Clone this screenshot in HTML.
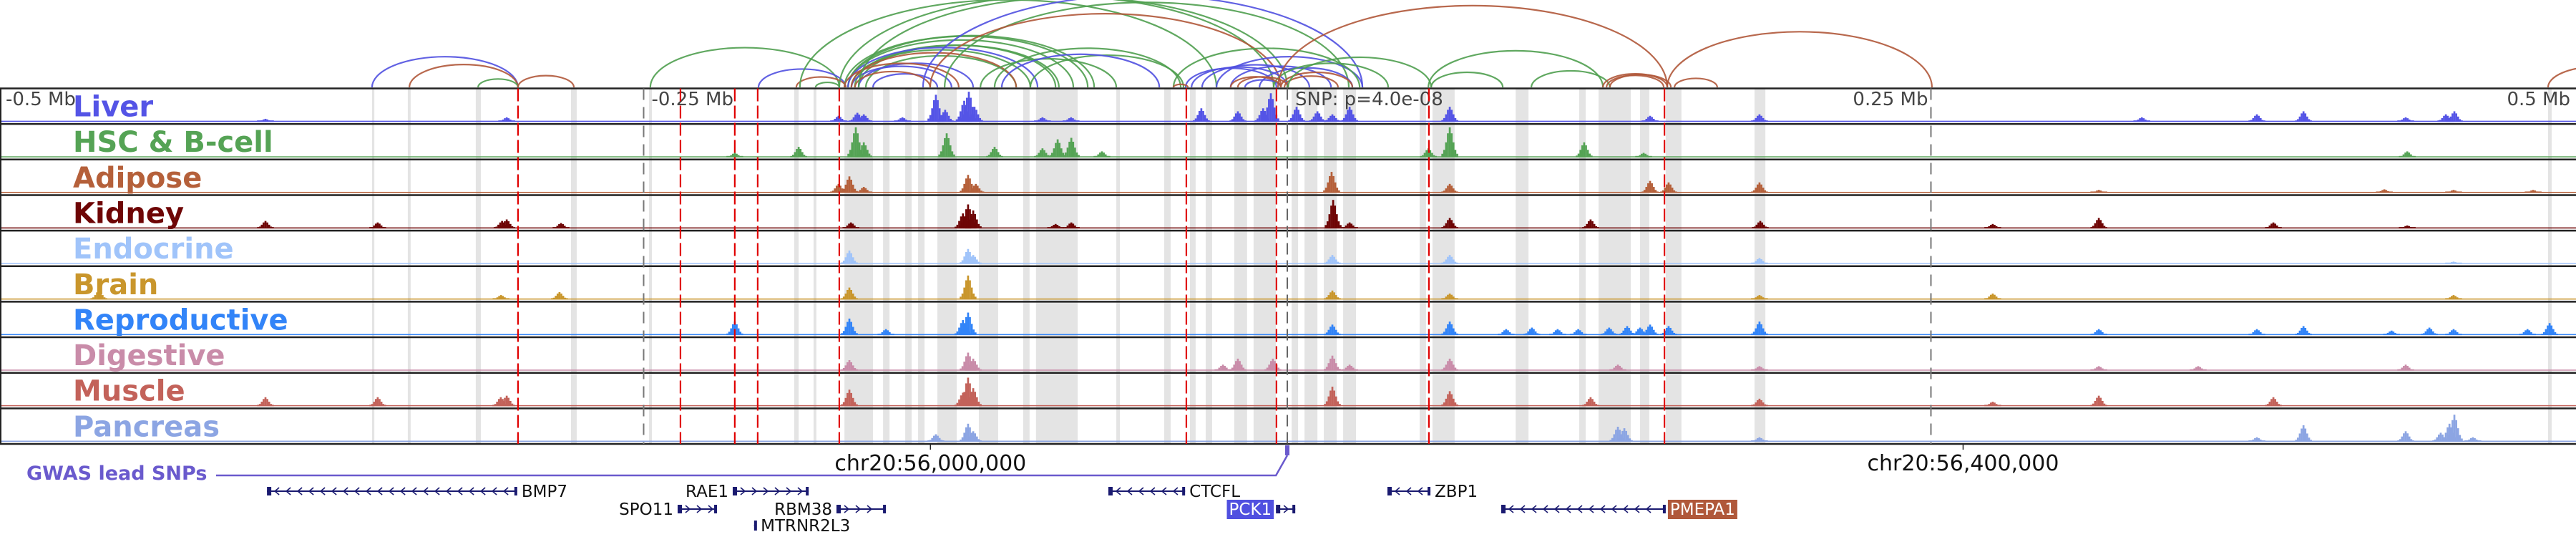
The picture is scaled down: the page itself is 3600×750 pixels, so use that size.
<!DOCTYPE html>
<html><head><meta charset="utf-8"><style>
html,body{margin:0;padding:0;background:#fff;}
svg{display:block;font-family:"DejaVu Sans","Liberation Sans",sans-serif;}
</style></head><body>
<svg id="chart" width="3600" height="750" viewBox="0 0 3600 750" xmlns="http://www.w3.org/2000/svg">
<g id="arcs"></g>
<g id="bands"></g>
<g id="signals"></g>
<g id="vlines"></g>
<g id="labels"></g>
<g id="bottom"></g>
</svg>
<script>
// ---- data (kb offsets relative to lead SNP) ----
const trackNames = ["Liver","HSC & B-cell","Adipose","Kidney","Endocrine","Brain","Reproductive","Digestive","Muscle","Pancreas"];
const trackColors = ["#5454e6","#55a355","#b5603a","#6e0505","#a0c4fa","#c9962c","#3284f8","#c98ca9","#c3625a","#8ca5e3"];
const liverPeaks = [[-396.9,.1],[-303.2,.15],[-174.3,.2],[-167,.3],[-164.5,.25],[-149.5,.15],[-136.5,.9],[-132.9,.4],[-125.5,.7],[-123.7,1.0],[-121.5,.5],[-95.1,.15],[-84,.15],[-33.4,.45],[-19.2,.35],[-9.4,.45],[-6.4,.95],[3.6,.5],[11.7,.35],[17.5,.25],[24.2,.5],[63.1,.5],[140.9,.2],[183.4,.25],[331.9,.15],[376.6,.25],[394.7,.35],[434.4,.15],[450,.25],[453.3,.35]];
const hscPeaks = [[-214.6,.15],[-189.8,.35],[-167.6,1.0],[-164.5,.5],[-132.3,.8],[-113.7,.35],[-95.1,.3],[-89.2,.6],[-83.9,.65],[-72,.2],[54.8,.3],[63.1,1.0],[115.3,.5],[138.4,.15],[435,.2]];
const adiposePeaks = [[-174.3,.3],[-170.1,.55],[-164.5,.2],[-124,.6],[-121,.3],[17.2,.7],[63.1,.3],[140.9,.4],[148.1,.35],[183.4,.35],[315.2,.1],[426.1,.12],[453,.1],[483.9,.1]];
const kidneyPeaks = [[-396.9,.25],[-353.3,.2],[-305,.25],[-303.2,.3],[-282.1,.18],[-169.5,.2],[-126,.5],[-124,.8],[-122,.6],[-90,.15],[-83.9,.2],[17.8,.95],[24.2,.2],[63.1,.35],[117.8,.3],[183.7,.25],[274,.15],[315.2,.35],[383,.2],[435,.1]];
const endocrinePeaks = [[-170.1,.45],[-124,.5],[-122,.3],[17.5,.3],[63.1,.3],[183.4,.2],[453,.08]];
const brainPeaks = [[-461.6,.3],[-305.4,.15],[-282.7,.25],[-170.1,.4],[-124,.8],[17.5,.3],[63.1,.2],[183.4,.15],[274,.2],[453,.15]];
const reproductivePeaks = [[-214.6,.45],[-170.1,.55],[-155.9,.2],[-126,.5],[-124,.75],[17.5,.35],[63.1,.45],[85,.2],[95,.25],[105,.2],[113,.2],[125,.25],[132,.3],[137,.25],[140.9,.35],[148.1,.3],[183.4,.45],[315.2,.2],[376.6,.2],[394.7,.3],[428.9,.15],[443.6,.25],[453,.2],[481.7,.2],[490.3,.4]];
const digestivePeaks = [[-170.1,.35],[-124,.6],[-122,.4],[-25,.2],[-19.2,.4],[-5.6,.4],[17.5,.5],[24.2,.2],[63.1,.4],[128.4,.2],[183.4,.15],[315.2,.15],[353.8,.15],[434.4,.2]];
const musclePeaks = [[-396.9,.3],[-353.3,.3],[-305.5,.3],[-303.2,.35],[-170.1,.55],[-126,.45],[-124,.95],[-122,.6],[17.5,.65],[63.1,.5],[117.8,.3],[183.4,.25],[274,.15],[315.2,.35],[383,.3]];
const pancreasPeaks = [[-136.5,.25],[-124,.6],[-122,.35],[128.4,.5],[130.9,.45],[183.4,.15],[376.6,.15],[394.7,.55],[434.4,.35],[448,.3],[451.4,.6],[453.3,.9],[460.5,.15]];
const allPeaks = [liverPeaks,hscPeaks,adiposePeaks,kidneyPeaks,endocrinePeaks,brainPeaks,reproductivePeaks,digestivePeaks,musclePeaks,pancreasPeaks];
const bandRegions = [[-355.5,-354.6],[-341.6,-340.5],[-315.2,-313.2],[-278.2,-276.0],[-247.9,-246.8],[-191.5,-189.8],[-184.0,-182.9],[-172.0,-160.9],[-157.0,-154.5],[-148.4,-145.9],[-143.4,-140.9],[-135.9,-128.4],[-119.8,-112.3],[-102.6,-100.1],[-97.6,-81.4],[-66.4,-65.0],[-47.8,-45.3],[-37.8,-35.6],[-31.7,-29.2],[-20.6,-15.6],[-13.1,-4.4],[1.7,4.2],[6.7,11.7],[14.2,19.2],[21.7,26.7],[51.4,53.9],[56.4,65.0],[88.7,93.7],[113.4,115.9],[120.9,133.4],[137.0,140.6],[147.0,153.1],[181.5,185.7],[489.7,491.1]];
const snpLines = [-298.8,-235.7,-214.6,-205.7,-174.0,-39.2,-4.2,55.0,146.5];
const scaleTicks = [-500,-250,250,500];
const scaleTickLabels = ["-0.5 Mb","-0.25 Mb","0.25 Mb","0.5 Mb"];
const arcStarts = [-355.5,-341,-314.3,-298.8,-247.4,-205.4,-190.7,-183.2,-189.3,-170.6,-170.6,-168,-166.5,-172,-169.3,-163.7,-169.3,-166.5,-170.6,-160.9,-172,-167.9,-169.3,-174,-166.5,-141.5,-133.1,-138.7,-99.8,-113.7,-119.2,-110.9,-39.5,-37.2,-33.1,-27.5,-22,-16.4,-10.8,-44.2,-5.3,-22,-19.2,-2.5,-1.1,-44.2,-3.6,147.6,489.7,54.8,55.9,94.8,0.3,122.6,124,125.3,150.4];
const arcEnds   = [-298.8,-298.8,-298.8,-277.1,-174,-171.5,-171.5,-174,-27.5,-83.1,-75,-90,-88.7,-77.5,-99.8,-105.3,-130.4,-122,-97,-135.9,-127.6,-138.7,-105.3,-5.3,0,29.2,23.9,-2.5,-40.3,-41.4,-66.4,-49.7,-4.2,0.3,8.6,29.2,17,-2.5,25.3,28.1,39.2,-2.5,0.3,25.3,19.7,-38.6,147.6,250.4,528,122.6,83.7,125.3,55.9,147.6,146.2,149,167];
const arcTissue = ["b","r","g","r","g","b","r","g","g","g","g","g","g","g","g","g","b","b","b","b","r","r","r","g","g","b","g","r","g","g","g","b","b","b","b","b","b","b","b","g","g","r","r","r","r","r","r","r","r","g","g","g","g","r","r","r","r"];
const geneNames = ["BMP7","RAE1","SPO11","RBM38","MTRNR2L3","CTCFL","PCK1","ZBP1","PMEPA1"];
const geneStarts = [-396.3,-215.4,-236.8,-175.1,-207.1,-69.5,-4.4,38.9,83.1];
const geneEnds = [-299.1,-185.9,-221.5,-155.9,-206.2,-39.7,3.1,55.6,147.0];
const geneStrand = [-1,1,1,1,0,-1,1,-1,-1];
const geneRow = [0,0,1,1,2,0,1,0,1];
const geneLabelSide = ["right","left","left","left","right","right","left","right","right"];
const geneHighlight = ["","","","","","","#5050e0","","#b0583a"];
const axisTicks = [-138.6,262.5];
const axisTickLabels = ["chr20:56,000,000","chr20:56,400,000"];

// ---- scales ----
const NS="http://www.w3.org/2000/svg";
const X = kb => 1799 + kb*3.598;
const TOP=123.5, TH=49.65, NT=10, BOT=TOP+TH*NT;
function mk(tag, attrs, parent){const e=document.createElementNS(NS,tag);for(const k in attrs)e.setAttribute(k,attrs[k]);parent.appendChild(e);return e;}
const gA=document.getElementById('arcs'),gB=document.getElementById('bands'),gS=document.getElementById('signals'),gV=document.getElementById('vlines'),gL=document.getElementById('labels'),gBo=document.getElementById('bottom');

// arcs
const arcColor={b:"#5050e0",g:"#4f9f4f",r:"#b0583a"};
for(let i=0;i<arcStarts.length;i++){
  const x1=X(arcStarts[i]),x2=X(arcEnds[i]);const rx=(x2-x1)/2;const ry=rx*0.42;
  const p=mk('path',{d:`M${x1},122 A${rx},${ry} 0 0 1 ${x2},122`,fill:"none",stroke:arcColor[arcTissue[i]],"stroke-width":2.2,"stroke-opacity":0.9},gA);
  
  
}
// bands
bandRegions.forEach(b=>{
  const r=mk('rect',{x:X(b[0]),y:TOP,width:Math.max(2,X(b[1])-X(b[0])),height:BOT-TOP,fill:"#e4e4e4"},gB);
  
  
});
// signal tracks
const prof=[0.12,0.25,0.5,0.8,1,0.8,0.5,0.25,0.12];
for(let t=0;t<NT;t++){
  const base=TOP+TH*(t+1)-3;
  const g=mk('g',{fill:trackColors[t]},gS);
  
  
  mk('rect',{x:0,y:base-1.5,width:3600,height:1.5},g);
  allPeaks[t].forEach(pk=>{
    const cx=X(pk[0]);
    prof.forEach((f,j)=>{const h=Math.max(2,pk[1]*42*f);mk('rect',{x:cx+(j-4)*2.6-1.3,y:base-h,width:2.7,height:h},g);});
  });
}
// track borders
for(let i=0;i<=NT;i++){
  const l=mk('line',{x1:0,x2:3600,y1:TOP+TH*i,y2:TOP+TH*i,stroke:"#222","stroke-width":2.5},gV);
  
  
}
mk('line',{x1:1,x2:1,y1:TOP,y2:BOT,stroke:"#222","stroke-width":2},gV);
// scale ticks
scaleTicks.forEach((k,i)=>{
  const x=X(k);
  if(Math.abs(k)<500){const l=mk('line',{x1:x,x2:x,y1:TOP,y2:BOT,stroke:"#777","stroke-width":2,"stroke-dasharray":"16,10"},gV);
    
    }
  const anchor = k<0 ? "start" : "end";
  const tx = k===-500 ? 8 : (k===500 ? 3592 : (k<0 ? x+11 : x-4));
  const t=mk('text',{x:tx,y:147,"font-size":26,fill:"#444","text-anchor":anchor},gV);t.textContent=scaleTickLabels[i];
  
  
});
// SNP line
const sl=mk('line',{x1:X(0),x2:X(0),y1:TOP,y2:636,stroke:"#666","stroke-width":2,"stroke-dasharray":"16,8"},gV);


const st=mk('text',{x:X(0)+11,y:147,"font-size":26,fill:"#444"},gV);st.textContent="SNP: p=4.0e-08";


// red lines
snpLines.forEach(k=>{
  const l=mk('line',{x1:X(k),x2:X(k),y1:TOP,y2:BOT,stroke:"#e00000","stroke-width":2.2,"stroke-dasharray":"18,6"},gV);
  
  
});
// labels
for(let t=0;t<NT;t++){
  const tx=mk('text',{x:102,y:TOP+TH*t+39,"font-size":40,"font-weight":"bold",fill:trackColors[t]},gL);tx.textContent=trackNames[t];
  
  
}
// bottom axis
axisTicks.forEach((k,i)=>{
  const x=X(k);
  mk('line',{x1:x,x2:x,y1:BOT,y2:628,stroke:"#222","stroke-width":1.5},gBo);
  const t=mk('text',{x:x,y:657,"font-size":30,"text-anchor":"middle",fill:"#111"},gBo);t.textContent=axisTickLabels[i];
  
  
});
// GWAS
const gw=mk('text',{x:37,y:670,"font-size":27,"font-weight":"bold",fill:"#6a5acd"},gBo);gw.textContent="GWAS lead SNPs";


const gp=mk('path',{d:`M302,664 L${X(-4.4)},664 L${X(0)},636`,fill:"none",stroke:"#6a5acd","stroke-width":2.5},gBo);


mk('rect',{x:X(0)-3,y:622,width:6,height:14,fill:"#6a5acd"},gBo);
// genes
const rowY=[686,711,734];
for(let i=0;i<geneNames.length;i++){
  const g=mk('g',{},gBo);
  
  
  const x1=X(geneStarts[i]),x2=X(geneEnds[i]),y=rowY[geneRow[i]];
  mk('line',{x1:x1,x2:x2,y1:y,y2:y,stroke:"#1a1a70","stroke-width":2},g);
  if(geneStrand[i]!==0){
    mk('rect',{x:x1,y:y-6,width:6,height:12,fill:"#1a1a70"},g);
    mk('rect',{x:x2-4,y:y-6,width:4,height:12,fill:"#1a1a70"},g);
    for(let cx=x1+14;cx<x2-8;cx+=16){
      const d=geneStrand[i]>0?`M${cx-3},${y-5} L${cx+3},${y} L${cx-3},${y+5}`:`M${cx+3},${y-5} L${cx-3},${y} L${cx+3},${y+5}`;
      mk('path',{d:d,fill:"none",stroke:"#1a1a70","stroke-width":1.6},g);
    }
  } else { mk('rect',{x:x1,y:y-7,width:Math.max(4,x2-x1),height:14,fill:"#1a1a70"},g); }
  const right=geneLabelSide[i]==="right";
  const lx=right?x2+3:x1-3;
  const bg = geneHighlight[i] ? mk('rect',{x:0,y:y-13,width:0,height:27,fill:geneHighlight[i]},g) : null;
  const t=mk('text',{x:right?lx+3:lx-3,y:y+8,"font-size":23,"text-anchor":right?"start":"end",fill:geneHighlight[i]?"#fff":"#111"},g);
  t.textContent=geneNames[i];
  if(bg){const bb=t.getBBox();bg.setAttribute('x',bb.x-3);bg.setAttribute('width',bb.width+6);}
}
</script>
</body></html>
